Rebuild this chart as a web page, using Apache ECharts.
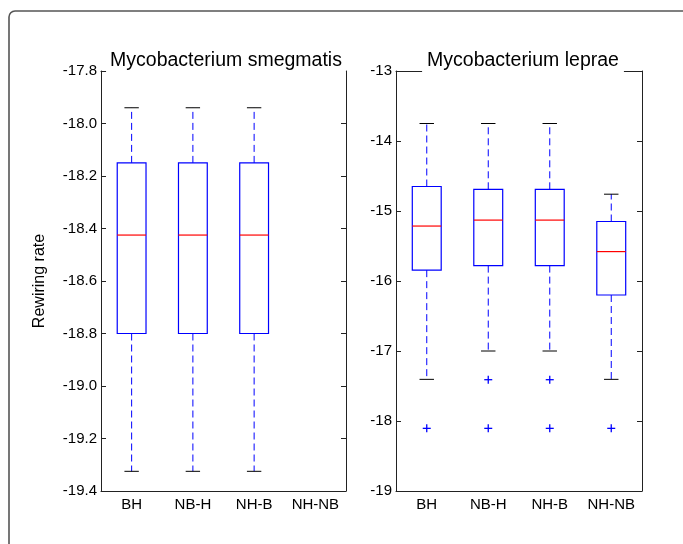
<!DOCTYPE html>
<html>
<head>
<meta charset="utf-8">
<script src="https://cdn.jsdelivr.net/npm/echarts@6/dist/echarts.min.js"></script>
<style>
  html, body { margin: 0; padding: 0; background: #fff; }
  #chart { width: 683px; height: 544px; }
</style>
</head>
<body>
<div id="chart"></div>
<script>
// categories shared by both panels
const categories = ["BH", "NB-H", "NH-B", "NH-NB"];

// Mycobacterium smegmatis (no NH-NB box)
const smegHigh = [-17.94, -17.94, -17.94];
const smegQ3 = [-18.15, -18.15, -18.15];
const smegMed = [-18.425, -18.425, -18.425];
const smegQ1 = [-18.80, -18.80, -18.80];
const smegLow = [-19.325, -19.325, -19.325];

// Mycobacterium leprae
const lepHigh = [-13.75, -13.75, -13.75, -14.76];
const lepQ3 = [-14.65, -14.69, -14.69, -15.15];
const lepMed = [-15.215, -15.13, -15.13, -15.58];
const lepQ1 = [-15.845, -15.78, -15.78, -16.20];
const lepLow = [-17.405, -17.0, -17.0, -17.405];
// outliers as [category index, value]
const lepOutliers = [[0, -18.105], [1, -17.41], [1, -18.105], [2, -17.41], [2, -18.105], [3, -18.105]];

const FONT = "Liberation Sans, Arial, sans-serif";

function boxRows(low, q1, med, q3, high) {
  return low.map((v, i) => [i, low[i], q1[i], med[i], q3[i], high[i]]);
}

function renderBox(params, api) {
  const cat = api.value(0);
  const pLow = api.coord([cat, api.value(1)]);
  const pQ1 = api.coord([cat, api.value(2)]);
  const pMed = api.coord([cat, api.value(3)]);
  const pQ3 = api.coord([cat, api.value(4)]);
  const pHigh = api.coord([cat, api.value(5)]);
  const band = api.size([1, 0])[0];
  const bw = band * 0.47;
  const cw = band * 0.235;
  const x = pMed[0];
  const dash = { stroke: "#0000ff", lineWidth: 1, lineDash: [7, 4], fill: null };
  const cap = { stroke: "#000", lineWidth: 1, fill: null };
  return {
    type: "group",
    children: [
      { type: "line", shape: { x1: x, y1: pQ3[1], x2: x, y2: pHigh[1] }, style: dash },
      { type: "line", shape: { x1: x, y1: pQ1[1], x2: x, y2: pLow[1] }, style: dash },
      { type: "line", shape: { x1: x - cw / 2, y1: pHigh[1], x2: x + cw / 2, y2: pHigh[1] }, style: cap },
      { type: "line", shape: { x1: x - cw / 2, y1: pLow[1], x2: x + cw / 2, y2: pLow[1] }, style: cap },
      { type: "rect", shape: { x: x - bw / 2, y: pQ3[1], width: bw, height: pQ1[1] - pQ3[1] },
        style: { stroke: "#0000ff", lineWidth: 1.2, fill: null } },
      { type: "line", shape: { x1: x - bw / 2, y1: pMed[1], x2: x + bw / 2, y2: pMed[1] },
        style: { stroke: "#ff0000", lineWidth: 1.2 } }
    ]
  };
}

function renderPlus(params, api) {
  const p = api.coord([api.value(0), api.value(1)]);
  const s = 4;
  const st = { stroke: "#0000ff", lineWidth: 1.3 };
  return {
    type: "group",
    children: [
      { type: "line", shape: { x1: p[0] - s, y1: p[1], x2: p[0] + s, y2: p[1] }, style: st },
      { type: "line", shape: { x1: p[0], y1: p[1] - s, x2: p[0], y2: p[1] + s }, style: st }
    ]
  };
}

const axisLine = { show: true, lineStyle: { color: "#222", width: 1 } };

function xAxes(grid) {
  return [
    {
      gridIndex: grid, type: "category", data: categories, position: "bottom",
      axisLine: axisLine,
      axisTick: { inside: true, length: 5, alignWithLabel: true, interval: 0, lineStyle: { color: "#222" } },
      axisLabel: { fontSize: 15, color: "#000", fontFamily: FONT, margin: 6, interval: 0 },
      splitLine: { show: false }
    },
    {
      gridIndex: grid, type: "category", data: categories, position: "top",
      axisLine: axisLine,
      axisTick: { inside: true, length: 5, alignWithLabel: true, interval: 0, lineStyle: { color: "#222" } },
      axisLabel: { show: false },
      splitLine: { show: false }
    }
  ];
}

function yAxes(grid, min, max, interval, digits, name) {
  return [
    {
      gridIndex: grid, type: "value", position: "left", min: min, max: max, interval: interval,
      name: name, nameLocation: "middle", nameGap: 53,
      nameTextStyle: { fontSize: 16, color: "#000", fontFamily: FONT },
      axisLine: axisLine,
      axisTick: { show: true, inside: true, length: 5, lineStyle: { color: "#222" } },
      axisLabel: { fontSize: 15, color: "#000", fontFamily: FONT, margin: 4,
        formatter: v => v.toFixed(digits) },
      splitLine: { show: false }
    },
    {
      gridIndex: grid, type: "value", position: "right", min: min, max: max, interval: interval,
      axisLine: axisLine,
      axisTick: { show: true, inside: true, length: 5, lineStyle: { color: "#222" } },
      axisLabel: { show: false },
      splitLine: { show: false }
    }
  ];
}

const chart = echarts.init(document.getElementById("chart"));
chart.setOption({
  backgroundColor: "#fff",
  animation: false,
  title: [
    {
      text: "Mycobacterium smegmatis", left: 222, top: 49, textAlign: "center",
      backgroundColor: "#fff", padding: [0, 4],
      textStyle: { fontSize: 19.5, fontWeight: "normal", color: "#000", fontFamily: FONT, lineHeight: 23 }
    },
    {
      text: "Mycobacterium leprae", left: 518, top: 49, textAlign: "center",
      backgroundColor: "#fff", padding: [0, 5],
      textStyle: { fontSize: 19.5, fontWeight: "normal", color: "#000", fontFamily: FONT, lineHeight: 23 }
    }
  ],
  graphic: [
    {
      type: "rect", z: 100, silent: true,
      shape: { x: 9, y: 11, width: 720, height: 600, r: 6 },
      style: { fill: null, stroke: "#555", lineWidth: 1.6 }
    }
  ],
  grid: [
    { left: 101, top: 71, width: 245, height: 420 },
    { left: 396, top: 71, width: 246, height: 420 }
  ],
  xAxis: xAxes(0).concat(xAxes(1)),
  yAxis: yAxes(0, -19.4, -17.8, 0.2, 1, "Rewiring rate").concat(yAxes(1, -19, -13, 1, 0, "")),
  series: [
    {
      type: "custom", xAxisIndex: 0, yAxisIndex: 0,
      renderItem: renderBox,
      encode: { x: 0, y: [1, 2, 3, 4, 5] },
      data: boxRows(smegLow, smegQ1, smegMed, smegQ3, smegHigh)
    },
    {
      type: "custom", xAxisIndex: 2, yAxisIndex: 2,
      renderItem: renderBox,
      encode: { x: 0, y: [1, 2, 3, 4, 5] },
      data: boxRows(lepLow, lepQ1, lepMed, lepQ3, lepHigh)
    },
    {
      type: "custom", xAxisIndex: 2, yAxisIndex: 2,
      renderItem: renderPlus,
      encode: { x: 0, y: 1 },
      data: lepOutliers
    }
  ]
});
</script>
</body>
</html>
